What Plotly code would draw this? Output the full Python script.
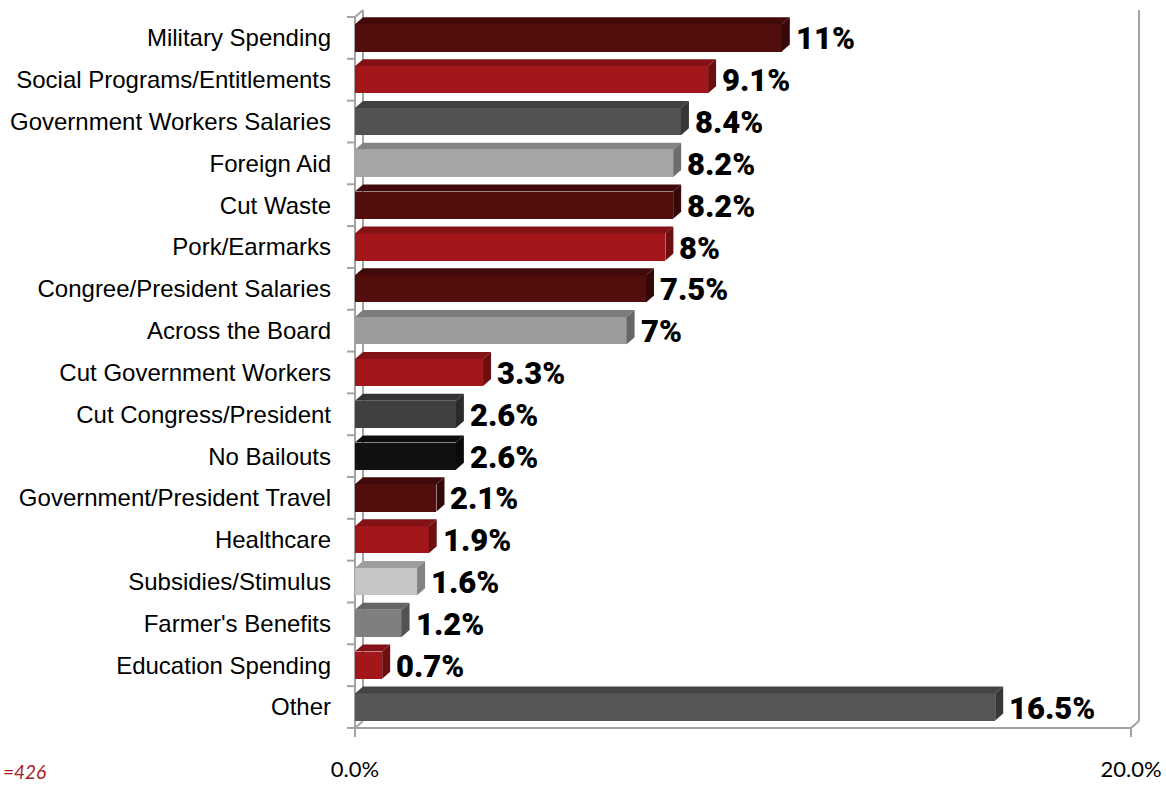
import plotly.graph_objects as go

# Survey answers: where should federal spending be cut?
categories = [
    "Military Spending",
    "Social Programs/Entitlements",
    "Government Workers Salaries",
    "Foreign Aid",
    "Cut Waste",
    "Pork/Earmarks",
    "Congree/President Salaries",
    "Across the Board",
    "Cut Government Workers",
    "Cut Congress/President",
    "No Bailouts",
    "Government/President Travel",
    "Healthcare",
    "Subsidies/Stimulus",
    "Farmer's Benefits",
    "Education Spending",
    "Other",
]
values = [11, 9.1, 8.4, 8.2, 8.2, 8, 7.5, 7, 3.3, 2.6, 2.6, 2.1, 1.9, 1.6, 1.2, 0.7, 16.5]
bar_colors = [
    "#520D0D", "#A3171B", "#525252", "#A6A6A6", "#520D0D", "#A3171B",
    "#520D0D", "#9B9B9B", "#A3171B", "#404040", "#111111", "#520D0D",
    "#A3171B", "#C5C5C5", "#7F7F7F", "#A3171B", "#565656",
]
x_tick_vals = [0, 20]
x_tick_text = ["0.0%", "20.0%"]
sample_note = "=426"

# ---- page geometry -------------------------------------------------------
W, H = 1166, 786
X0_PX = 355          # pixel column of the 0 % line
X_SCALE = 38.8       # pixels per percentage point
Y0_PX = 17           # pixel row of the first category boundary
Y_SCALE = 41.82      # pixels per category row
DEPTH_X = 8 / X_SCALE    # 3-D extrusion, horizontal part
DEPTH_Y = 7 / Y_SCALE    # 3-D extrusion, vertical part
BAR_W = 0.65
TICK_X = 8 / X_SCALE
TICK_Y = 9 / Y_SCALE

ML, MR, MT, MB = 338, 20, 4, 40
x_range = [(ML - X0_PX) / X_SCALE, (W - MR - X0_PX) / X_SCALE]
y_top = -0.5 + (MT - Y0_PX) / Y_SCALE
y_bot = -0.5 + (H - MB - Y0_PX) / Y_SCALE

n = len(categories)
idx = list(range(n))
x_max = x_tick_vals[-1]


def shade(hex_color, f):
    r, g, b = (int(hex_color[i:i + 2], 16) for i in (1, 3, 5))
    return f"rgb({int(r * f)},{int(g * f)},{int(b * f)})"


fig = go.Figure()

# front faces
fig.add_trace(go.Bar(
    x=values, y=idx, orientation="h", width=BAR_W,
    marker=dict(color=bar_colors, line=dict(width=0)),
    hoverinfo="skip",
))

# top and right faces of each bar
for i, (v, c) in enumerate(zip(values, bar_colors)):
    y_hi = i - BAR_W / 2
    y_lo = i + BAR_W / 2
    fig.add_trace(go.Scatter(
        x=[0, v, v + DEPTH_X, DEPTH_X, 0],
        y=[y_hi, y_hi, y_hi - DEPTH_Y, y_hi - DEPTH_Y, y_hi],
        mode="lines", fill="toself", fillcolor=shade(c, 0.8),
        line=dict(width=0), hoverinfo="skip",
    ))
    fig.add_trace(go.Scatter(
        x=[v, v + DEPTH_X, v + DEPTH_X, v, v],
        y=[y_hi, y_hi - DEPTH_Y, y_lo - DEPTH_Y, y_lo, y_hi],
        mode="lines", fill="toself", fillcolor=shade(c, 0.66),
        line=dict(width=0), hoverinfo="skip",
    ))

# value labels
for i, v in enumerate(values):
    fig.add_annotation(
        x=v + DEPTH_X, y=i, text=f"{v:g}%", showarrow=False,
        xanchor="left", yanchor="middle", xshift=4, yshift=-1,
        font=dict(family="Roboto, Liberation Sans, sans-serif",
                  size=31, color="black", weight=900),
    )

# axis frame with the 3-D wall
wall = dict(color="#A3A3A3", width=2)
top_b, bot_b = -0.5, n - 0.5
segments = [
    ((0, top_b), (0, bot_b + TICK_Y)),
    ((0, top_b), (DEPTH_X, top_b - DEPTH_Y)),
    ((DEPTH_X, top_b - DEPTH_Y), (DEPTH_X, bot_b - DEPTH_Y)),
    ((0, bot_b), (DEPTH_X, bot_b - DEPTH_Y)),
    ((0, bot_b), (x_max, bot_b)),
    ((x_max + DEPTH_X, top_b - DEPTH_Y), (x_max + DEPTH_X, bot_b - DEPTH_Y)),
    ((x_max + DEPTH_X, bot_b - DEPTH_Y), (x_max, bot_b)),
    ((x_max, bot_b), (x_max, bot_b + TICK_Y)),
]
for k in range(n + 1):
    b = top_b + k
    segments.append(((-TICK_X, b), (0, b)))
for (xa, ya), (xb, yb) in segments:
    fig.add_shape(type="line", xref="x", yref="y", x0=xa, y0=ya, x1=xb, y1=yb,
                  line=wall, layer="below")

# sample size note in the bottom-left corner
plot_w = W - ML - MR
plot_h = H - MT - MB
fig.add_annotation(
    xref="paper", yref="paper",
    x=(1 - ML) / plot_w, y=(H - MB - 771) / plot_h,
    text=sample_note, showarrow=False, xanchor="left", yanchor="middle",
    font=dict(family="Lato, Liberation Sans, sans-serif", size=19, color="#A6191E", style="italic"),
)

fig.update_layout(
    width=W, height=H,
    margin=dict(l=ML, r=MR, t=MT, b=MB, autoexpand=False),
    paper_bgcolor="white", plot_bgcolor="white",
    showlegend=False, bargap=0,
    xaxis=dict(range=x_range, tickvals=x_tick_vals, ticktext=x_tick_text,
               showgrid=False, zeroline=False, showline=False, ticks="",
               ticklabelstandoff=8,
               tickfont=dict(family="Lato, Liberation Sans, sans-serif", size=22, color="black")),
    yaxis=dict(range=[y_bot, y_top], tickvals=idx, ticktext=categories,
               showgrid=False, zeroline=False, showline=False, ticks="",
               ticklabelstandoff=6,
               tickfont=dict(family="Liberation Sans, Arial, sans-serif", size=24, color="black")),
)

fig.write_html("out.html")
